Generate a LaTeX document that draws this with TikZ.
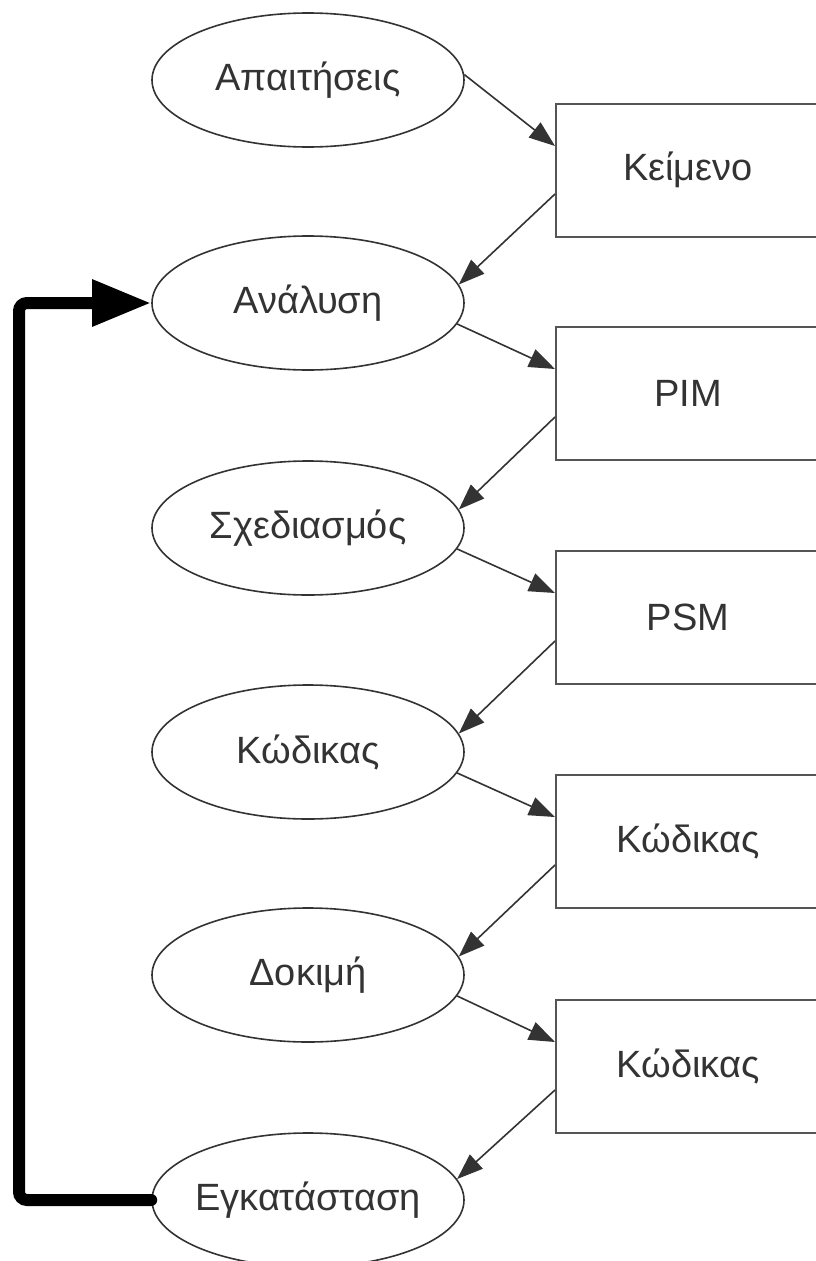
\documentclass[tikz,border=0pt]{standalone}
\usepackage{fontspec}
\setmainfont{Liberation Sans}
\usetikzlibrary{arrows.meta,shapes.geometric,calc}
\definecolor{ink}{HTML}{333333}
\definecolor{frame}{HTML}{555555}
\begin{document}
\begin{tikzpicture}[x=1pt,y=-1pt,
  every node/.style={font=\fontsize{38}{44}\selectfont, text=ink},
  every label/.style={font=\fontsize{38}{44}\selectfont, text=ink, inner sep=0pt},
  % fixed-size ellipse; the name sits on top as a centred label
  phase/.style={ellipse, draw=ink, line width=1.6pt, minimum width=312pt, minimum height=134pt, inner sep=0pt, label=center:{#1}},
  artefact/.style={rectangle, draw=frame, line width=2pt, minimum width=264pt, minimum height=133pt, inner sep=0pt},
  flow/.style={draw=ink, line width=1.6pt, -{Triangle[length=26pt,width=19pt]}},
  loop/.style={draw=black, line width=12pt, rounded corners=8pt, line cap=round, -{Triangle[length=59pt,width=44pt]}}]
\useasboundingbox (0,0) rectangle (816,1261);
\fill[white] (0,0) rectangle (816,1261);

% phases
\node[phase=Απαιτήσεις]  (req) at (308,80)   {};
\node[phase=Ανάλυση]     (ana) at (308,303)  {};
\node[phase=Σχεδιασμός]  (des) at (308,528)  {};
\node[phase=Κώδικας]     (cod) at (308,752)  {};
\node[phase=Δοκιμή]      (tst) at (308,975)  {};
\node[phase=Εγκατάσταση] (ins) at (308,1200) {};

% artefacts
\node[artefact] (txt)  at (688,170)  {Κείμενο};
\node[artefact] (pim)  at (688,393)  {PIM};
\node[artefact] (psm)  at (688,617)  {PSM};
\node[artefact] (src1) at (688,841)  {Κώδικας};
\node[artefact] (src2) at (688,1066) {Κώδικας};

% phase -> artefact
\draw[flow] (req.2)  -- ($(txt.west)+(0,-24)$);
\draw[flow] (ana.-8) -- ($(pim.west)+(0,-24)$);
\draw[flow] (des.-8) -- ($(psm.west)+(0,-24)$);
\draw[flow] (cod.-8) -- ($(src1.west)+(0,-24)$);
\draw[flow] (tst.-8) -- ($(src2.west)+(0,-24)$);

% artefact -> next phase
\draw[flow] ($(txt.west)+(0,24)$)  -- (ana.7);
\draw[flow] ($(pim.west)+(0,24)$)  -- (des.7);
\draw[flow] ($(psm.west)+(0,24)$)  -- (cod.7);
\draw[flow] ($(src1.west)+(0,24)$) -- (tst.7);
\draw[flow] ($(src2.west)+(0,24)$) -- (ins.8);

% feedback loop
\coordinate (lb) at (19,1200);
\coordinate (lt) at (19,303);
\draw[loop] (ins.west) -- (lb) -- (lt) -- (ana.west);
\end{tikzpicture}
\end{document}
